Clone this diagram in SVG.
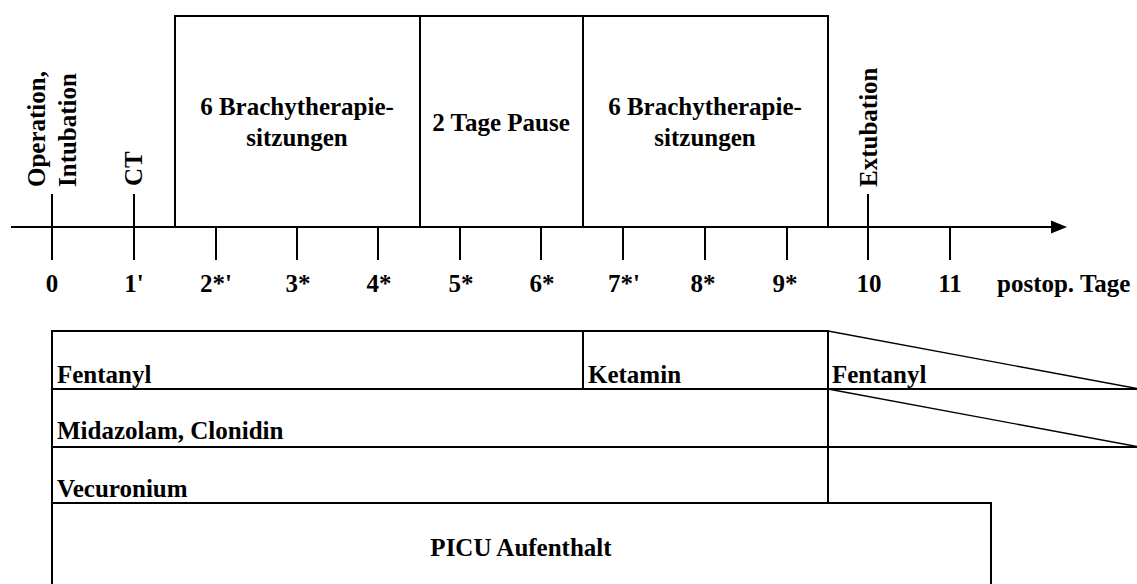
<svg xmlns="http://www.w3.org/2000/svg" width="1137" height="584" viewBox="0 0 1137 584">
<style>
  .ln { stroke: #000; stroke-width: 2; fill: none; }
  .thin { stroke: #000; stroke-width: 1.3; fill: none; }
  text { font-family: "Liberation Serif", "Times New Roman", serif; font-weight: bold; font-size: 25px; fill: #000; }
  .c { text-anchor: middle; }
</style>
<rect x="0" y="0" width="1137" height="584" fill="#fff"/>

<g id="connectors">
  <line class="ln" x1="11" y1="227" x2="1055" y2="227"/>
  <polygon points="1051,220.5 1067,227 1051,233.5" fill="#000"/>
  <!-- ticks -->
  <line class="ln" x1="52" y1="194" x2="52" y2="260"/>
  <line class="ln" x1="134" y1="194" x2="134" y2="260"/>
  <line class="ln" x1="216" y1="227" x2="216" y2="260"/>
  <line class="ln" x1="297" y1="227" x2="297" y2="260"/>
  <line class="ln" x1="378" y1="227" x2="378" y2="260"/>
  <line class="ln" x1="460" y1="227" x2="460" y2="260"/>
  <line class="ln" x1="541" y1="227" x2="541" y2="260"/>
  <line class="ln" x1="623" y1="227" x2="623" y2="260"/>
  <line class="ln" x1="705" y1="227" x2="705" y2="260"/>
  <line class="ln" x1="787" y1="227" x2="787" y2="260"/>
  <line class="ln" x1="868" y1="194" x2="868" y2="260"/>
  <line class="ln" x1="950" y1="227" x2="950" y2="260"/>
</g>

<g id="tick-labels">
  <text class="c" x="52" y="292">0</text>
  <text class="c" x="134" y="292">1'</text>
  <text class="c" x="216" y="292">2*'</text>
  <text class="c" x="298" y="292">3*</text>
  <text class="c" x="379" y="292">4*</text>
  <text class="c" x="461" y="292">5*</text>
  <text class="c" x="542" y="292">6*</text>
  <text class="c" x="624" y="292">7*'</text>
  <text class="c" x="703" y="292">8*</text>
  <text class="c" x="785" y="292">9*</text>
  <text class="c" x="869" y="292">10</text>
  <text class="c" x="950" y="292">11</text>
  <text x="997" y="292">postop. Tage</text>
</g>

<g id="event-operation">
  <text transform="translate(45,187) rotate(-90)">Operation,</text>
  <text transform="translate(76,187) rotate(-90)">Intubation</text>
</g>
<g id="event-ct">
  <text transform="translate(142,186) rotate(-90)">CT</text>
</g>
<g id="event-extubation">
  <text transform="translate(877,187) rotate(-90)">Extubation</text>
</g>

<g id="brachy1">
  <rect class="ln" x="175" y="16" width="245" height="211"/>
  <text class="c" x="297" y="115">6 Brachytherapie-</text>
  <text class="c" x="297" y="146">sitzungen</text>
</g>
<g id="pause">
  <rect class="ln" x="420" y="16" width="163" height="211"/>
  <text class="c" x="501" y="131">2 Tage Pause</text>
</g>
<g id="brachy2">
  <rect class="ln" x="583" y="16" width="245" height="211"/>
  <text class="c" x="705" y="115">6 Brachytherapie-</text>
  <text class="c" x="705" y="146">sitzungen</text>
</g>

<g id="fentanyl">
  <rect class="ln" x="52" y="331" width="531" height="58"/>
  <text x="57" y="383">Fentanyl</text>
</g>
<g id="ketamin">
  <rect class="ln" x="583" y="331" width="245" height="58"/>
  <text x="588" y="383">Ketamin</text>
</g>
<g id="fentanyl-taper">
  <line class="thin" x1="828" y1="331" x2="1137" y2="388.5"/>
  <line class="ln" x1="828" y1="389" x2="1137" y2="389"/>
  <text x="832" y="383">Fentanyl</text>
</g>
<g id="midazolam">
  <rect class="ln" x="52" y="389" width="776" height="58"/>
  <text x="57" y="439">Midazolam, Clonidin</text>
</g>
<g id="midazolam-taper">
  <line class="thin" x1="828" y1="389" x2="1137" y2="446.5"/>
  <line class="ln" x1="828" y1="447" x2="1137" y2="447"/>
</g>
<g id="vecuronium">
  <rect class="ln" x="52" y="447" width="776" height="56"/>
  <text x="57" y="497">Vecuronium</text>
</g>
<g id="picu">
  <path class="ln" d="M52,585 V503 H991 V585"/>
  <text class="c" x="521" y="556">PICU Aufenthalt</text>
</g>
</svg>
